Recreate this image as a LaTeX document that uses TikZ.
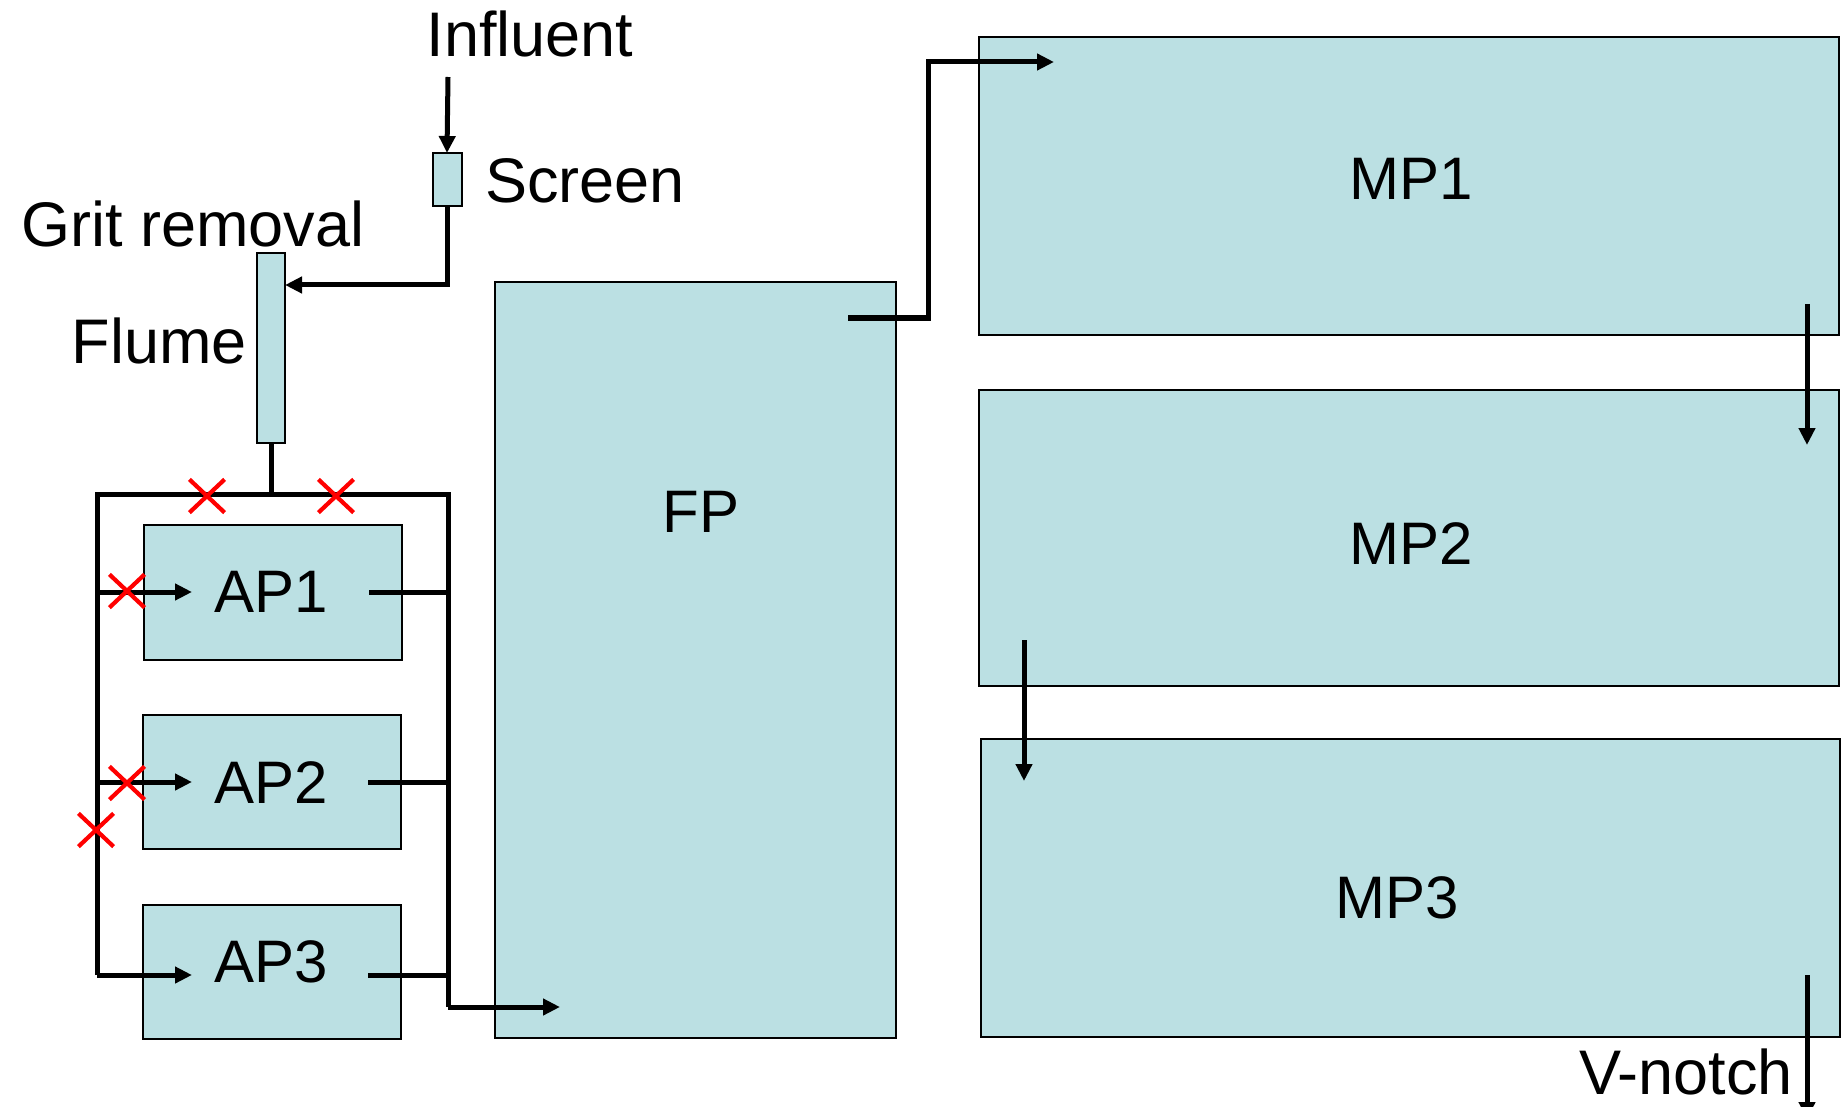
\documentclass[tikz,border=0pt]{standalone}
\usepackage{fontspec}
\setmainfont{Liberation Sans}
\usetikzlibrary{arrows.meta,shapes.misc,calc}
\definecolor{pond}{RGB}{187,224,227}
\begin{document}
\begin{tikzpicture}[x=1pt,y=-1pt,
  tank/.style={draw=black,line width=2pt,fill=pond,inner sep=0pt,outer sep=0pt},
  flow/.style={line width=5pt,line join=miter,line cap=butt},
  feed/.style={flow,-{Triangle[length=17pt,width=16pt]}},
  valve/.style={cross out,draw=red,line width=4.2pt,minimum width=31pt,minimum height=29pt,inner sep=0pt},
  lbl/.style={font=\fontsize{63pt}{70pt}\selectfont,inner sep=0pt},
  tag/.style={font=\fontsize{60pt}{66pt}\selectfont,inner sep=0pt}]
\useasboundingbox (0,0) rectangle (1847,1107);

% treatment units
\node[tank,minimum width=29pt,minimum height=53pt] (screen) at (447,179.5) {};
\node[tank,minimum width=28pt,minimum height=190pt] (flume) at (271,348) {};
\node[tank,minimum width=258pt,minimum height=135pt] (ap1) at (273,592) {};
\node[tank,minimum width=258pt,minimum height=134pt] (ap2) at (272,782) {};
\node[tank,minimum width=258pt,minimum height=134pt] (ap3) at (272,972) {};
\node[tank,minimum width=401pt,minimum height=756pt] (fp) at (695.5,660) {};
\node[tank,minimum width=860pt,minimum height=297pt] (mp1) at (1409,186) {};
\node[tank,minimum width=860pt,minimum height=296pt] (mp2) at (1409,538) {};
\node[tank,minimum width=859pt,minimum height=298pt] (mp3) at (1410.5,888) {};

% labels
\node[lbl,anchor=base] (influent) at (530,57) {Influent};
\node[lbl,anchor=base west] (screen-l) at (485,203) {Screen};
\node[lbl,anchor=base west] (grit-l) at (21,247) {Grit removal};
\node[lbl,anchor=base east] (flume-l) at (247,363) {Flume};
\node[tag] (ap1-l) at (271,592) {AP1};
\node[tag] (ap2-l) at (271,783) {AP2};
\node[tag] (ap3-l) at (271,962) {AP3};
\node[tag] (fp-l) at (701,512) {FP};
\node[tag] (mp1-l) at (1411,179) {MP1};
\node[tag] (mp2-l) at (1411,544) {MP2};
\node[tag] (mp3-l) at (1397,898) {MP3};
\node[lbl,anchor=base east] (vnotch-l) at (1793,1094) {V-notch};

% headworks
\coordinate (inlet) at (448,77);
\draw[feed] (inlet) -- (screen.north);
\coordinate (flume-in) at (285,285);
\draw[feed] (screen.south) |- (flume-in);

% distribution and collection headers around the aerated ponds
\coordinate (nw) at (97,494);
\coordinate (ne) at (448,494);
\coordinate (sw) at (97,975);
\coordinate (se) at (448,1007);
\draw[flow] (flume.south) -- (flume.south |- nw);
\draw[flow] (sw) -- (nw) -- (ne) -- (se);
\draw[feed] (nw |- ap1) -- ++(95,0);
\draw[feed] (nw |- ap2) -- ++(95,0);
\draw[feed] (sw) -- ++(95,0);
\draw[flow] ($(ap1.east)+(-33,0)$) -- (ne |- ap1);
\draw[flow] ($(ap2.east)+(-33,0)$) -- (ne |- ap2);
\draw[flow] ($(ap3.east |- sw)+(-33,0)$) -- (ne |- sw);
\coordinate (fp-in) at (560,1007);
\draw[feed] (se) -- (fp-in);

% facultative and maturation ponds
\coordinate (fp-out) at (848,318);
\coordinate (mp1-in) at (1054,62);
\draw[feed] (fp-out) -- ++(80,0) |- (mp1-in);
\coordinate (mp1-out) at (1807,304);
\draw[feed] (mp1-out) -- ++(0,141);
\coordinate (mp2-out) at (1024,640);
\draw[feed] (mp2-out) -- ++(0,141);
\coordinate (mp3-out) at (1807,975);
\draw[feed] (mp3-out) -- ++(0,144);

% closed valves
\node[valve] (v1) at (207,496) {};
\node[valve] (v2) at (336,496) {};
\node[valve] (v3) at (127,591) {};
\node[valve] (v4) at (127,783) {};
\node[valve] (v5) at (96,830) {};
\end{tikzpicture}
\end{document}
